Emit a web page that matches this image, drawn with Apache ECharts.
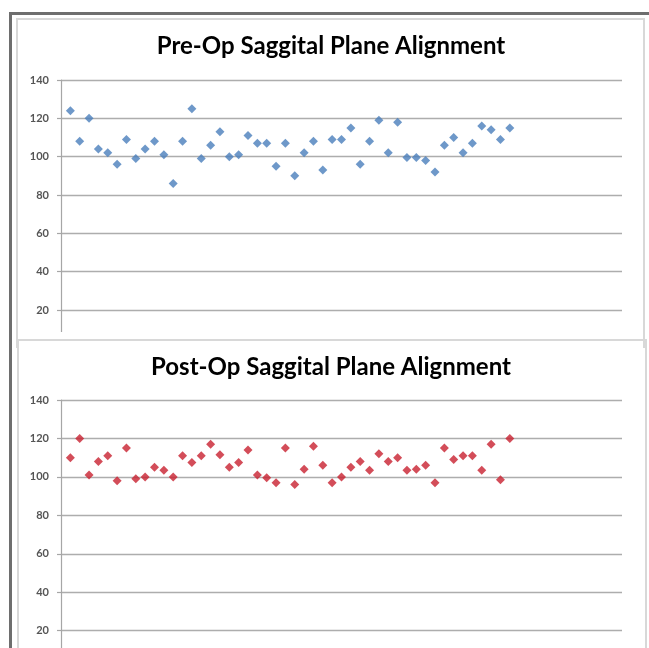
<!DOCTYPE html>
<html>
<head>
<meta charset="utf-8">
<script src="https://cdn.jsdelivr.net/npm/echarts@6/dist/echarts.min.js"></script>
<style>
  html, body { margin: 0; padding: 0; background: #ffffff; width: 649px; height: 648px; overflow: hidden; }
  .abs { position: absolute; box-sizing: border-box; }
  #outerFrame { left: 9px; top: 12px; width: 700px; height: 700px; border-top: 3px solid #6e6e6e; border-left: 3px solid #6e6e6e; }
  #preFrame { left: 16px; top: 18px; width: 629px; height: 330px; border: 2px solid #d8d8d8; border-bottom: none; }
  #postFrame { left: 17px; top: 339px; width: 630px; height: 330px; border: 2px solid #d8d8d8; border-bottom: none; }
  .clip { overflow: hidden; }
  #preClip { left: 17px; top: 0px; width: 628px; height: 332px; }
  #postClip { left: 17px; top: 336px; width: 628px; height: 312px; }
</style>
</head>
<body>
<div id="outerFrame" class="abs"></div>
<div id="preFrame" class="abs"></div>
<div id="postFrame" class="abs"></div>
<div id="preClip" class="abs clip"><div id="preChart" style="width:628px;height:380px;"></div></div>
<div id="postClip" class="abs clip"><div id="postChart" style="width:628px;height:360px;"></div></div>
<script>
// Sagittal plane alignment per case (degrees), before and after surgery
const preOpTitle = 'Pre-Op Saggital Plane Alignment';
const postOpTitle = 'Post-Op Saggital Plane Alignment';

const preOpValues = [124, 108, 120, 104, 102, 96, 109, 99, 104, 108, 101, 86,
  108, 125, 99, 106, 113, 100, 101, 111, 107, 107, 95, 107,
  90, 102, 108, 93, 109, 109, 115, 96, 108, 119, 102, 118,
  99.5, 99.5, 98, 92, 106, 110, 102, 107, 116, 114, 109, 115];

const postOpValues = [110, 120, 101, 108, 111, 98, 115, 99, 100, 105, 103.5, 100,
  111, 107.5, 111, 117, 111.5, 105, 107.5, 114, 101, 99.5, 97, 115,
  96, 104, 116, 106, 97, 100, 105, 108, 103.5, 112, 108, 110,
  103.5, 104, 106, 97, 115, 109, 111, 111, 103.5, 117, 98.5, 120];

const yTicks = [0, 20, 40, 60, 80, 100, 120, 140];
const xRange = [0, 60];

function toPoints(values) {
  return values.map((v, i) => [i + 1, v]);
}

function buildOption(title, values, color, titleTop, grid) {
  return {
    animation: false,
    backgroundColor: 'transparent',
    title: {
      text: title,
      left: 'center',
      top: titleTop,
      textStyle: { fontFamily: 'Lato', fontWeight: 'bold', fontSize: 24, color: '#000000' }
    },
    grid: grid,
    xAxis: {
      type: 'value',
      min: xRange[0],
      max: xRange[1],
      interval: 10,
      axisLine: { show: true, lineStyle: { color: '#a6a6a6', width: 1 } },
      axisTick: { show: false },
      axisLabel: { show: false },
      splitLine: { show: false }
    },
    yAxis: {
      type: 'value',
      min: yTicks[0],
      max: yTicks[yTicks.length - 1],
      interval: yTicks[1] - yTicks[0],
      axisLine: { show: true, onZero: false, lineStyle: { color: '#a6a6a6', width: 1.2 } },
      axisTick: { show: true, inside: false, length: 4, lineStyle: { color: '#a6a6a6', width: 1.2 } },
      axisLabel: {
        margin: 12,
        fontFamily: 'Lato',
        fontWeight: 'bold',
        fontSize: 11,
        color: '#555555'
      },
      splitLine: { show: true, lineStyle: { color: '#adadad', width: 1.4 } }
    },
    series: [{
      type: 'scatter',
      data: toPoints(values),
      symbol: 'diamond',
      symbolSize: 9,
      itemStyle: { color: color }
    }]
  };
}

// Top panel: 140 at y=80, 0 at y=348 (page coords); lower part clipped by the panel edge
const preChart = echarts.init(document.getElementById('preChart'), null, { renderer: 'canvas' });
preChart.setOption(buildOption(preOpTitle, preOpValues, '#4a7ebb', 29,
  { left: 44, right: 23, top: 80, bottom: 380 - 348.3 }));

// Bottom panel: chart box starts at y=336; 140 at y=400, 0 at y=669
const postChart = echarts.init(document.getElementById('postChart'), null, { renderer: 'canvas' });
postChart.setOption(buildOption(postOpTitle, postOpValues, '#c8202f', 14,
  { left: 44, right: 23, top: 400 - 336, bottom: 360 - (669.1 - 336) }));
</script>
</body>
</html>
